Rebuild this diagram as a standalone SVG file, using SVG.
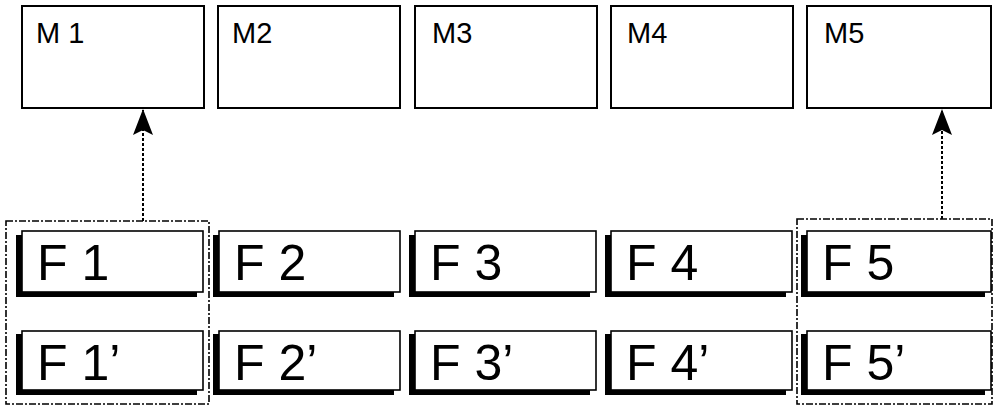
<svg xmlns="http://www.w3.org/2000/svg" width="994" height="406" viewBox="0 0 994 406">
<style>
.m{fill:#fff;stroke:#000;stroke-width:2}
.f{fill:#fff;stroke:#000;stroke-width:1.6}
.sh{fill:#000}
.ml{font-family:"Liberation Sans",Arial,sans-serif;font-size:29px;fill:#000}
.fl{font-family:"Liberation Sans",Arial,sans-serif;font-size:50px;fill:#000}
.grp{fill:none;stroke:#000;stroke-width:1.6;stroke-dasharray:7 2 2 2}
.ar{fill:none;stroke:#000;stroke-width:2;stroke-dasharray:3 2}
</style>
<defs>
<marker id="ah" viewBox="0 0 26 20" refX="25" refY="10" markerWidth="26" markerHeight="20" markerUnits="userSpaceOnUse" orient="auto">
<path d="M26 10 L0 0 L5 10 L0 20 Z" fill="#000"/>
</marker>
</defs>
<rect width="994" height="406" fill="#fff"/>
<g id="M1"><rect class="m" x="22" y="6" width="182" height="102"/><text class="ml" x="36" y="43">M 1</text></g>
<g id="M2"><rect class="m" x="218" y="6" width="182" height="102"/><text class="ml" x="232" y="43">M2</text></g>
<g id="M3"><rect class="m" x="415" y="6" width="182" height="102"/><text class="ml" x="432" y="43">M3</text></g>
<g id="M4"><rect class="m" x="611" y="6" width="182" height="102"/><text class="ml" x="627" y="43">M4</text></g>
<g id="M5"><rect class="m" x="807" y="6" width="184" height="102"/><text class="ml" x="824" y="43">M5</text></g>

<g id="group-left"><rect class="grp" x="6" y="221" width="203" height="183"/></g>
<g id="group-right"><rect class="grp" x="797" y="219" width="195" height="185"/></g>

<g id="F1"><rect class="sh" x="16" y="235" width="181" height="62"/><rect class="f" x="22" y="231" width="181" height="61"/><text class="fl" x="37" y="280">F 1</text></g>
<g id="F2"><rect class="sh" x="213" y="235" width="181" height="62"/><rect class="f" x="219" y="231" width="181" height="61"/><text class="fl" x="234" y="280">F 2</text></g>
<g id="F3"><rect class="sh" x="409" y="235" width="181" height="62"/><rect class="f" x="415" y="231" width="181" height="61"/><text class="fl" x="430" y="280">F 3</text></g>
<g id="F4"><rect class="sh" x="605" y="235" width="181" height="62"/><rect class="f" x="611" y="231" width="181" height="61"/><text class="fl" x="626" y="280">F 4</text></g>
<g id="F5"><rect class="sh" x="801" y="235" width="184" height="62"/><rect class="f" x="807" y="231" width="184" height="61"/><text class="fl" x="822" y="280">F 5</text></g>

<g id="F1p"><rect class="sh" x="16" y="334" width="181" height="61"/><rect class="f" x="22" y="331" width="181" height="59"/><text class="fl" x="37" y="380">F 1’</text></g>
<g id="F2p"><rect class="sh" x="213" y="334" width="181" height="61"/><rect class="f" x="219" y="331" width="181" height="59"/><text class="fl" x="234" y="380">F 2’</text></g>
<g id="F3p"><rect class="sh" x="409" y="334" width="181" height="61"/><rect class="f" x="415" y="331" width="181" height="59"/><text class="fl" x="430" y="380">F 3’</text></g>
<g id="F4p"><rect class="sh" x="605" y="334" width="181" height="61"/><rect class="f" x="611" y="331" width="181" height="59"/><text class="fl" x="626" y="380">F 4’</text></g>
<g id="F5p"><rect class="sh" x="801" y="334" width="184" height="61"/><rect class="f" x="807" y="331" width="184" height="59"/><text class="fl" x="822" y="380">F 5’</text></g>

<g id="connectors">
<path class="ar" d="M143 221 V110" marker-end="url(#ah)"/>
<path class="ar" d="M942 219 V110" marker-end="url(#ah)"/>
</g>
</svg>
